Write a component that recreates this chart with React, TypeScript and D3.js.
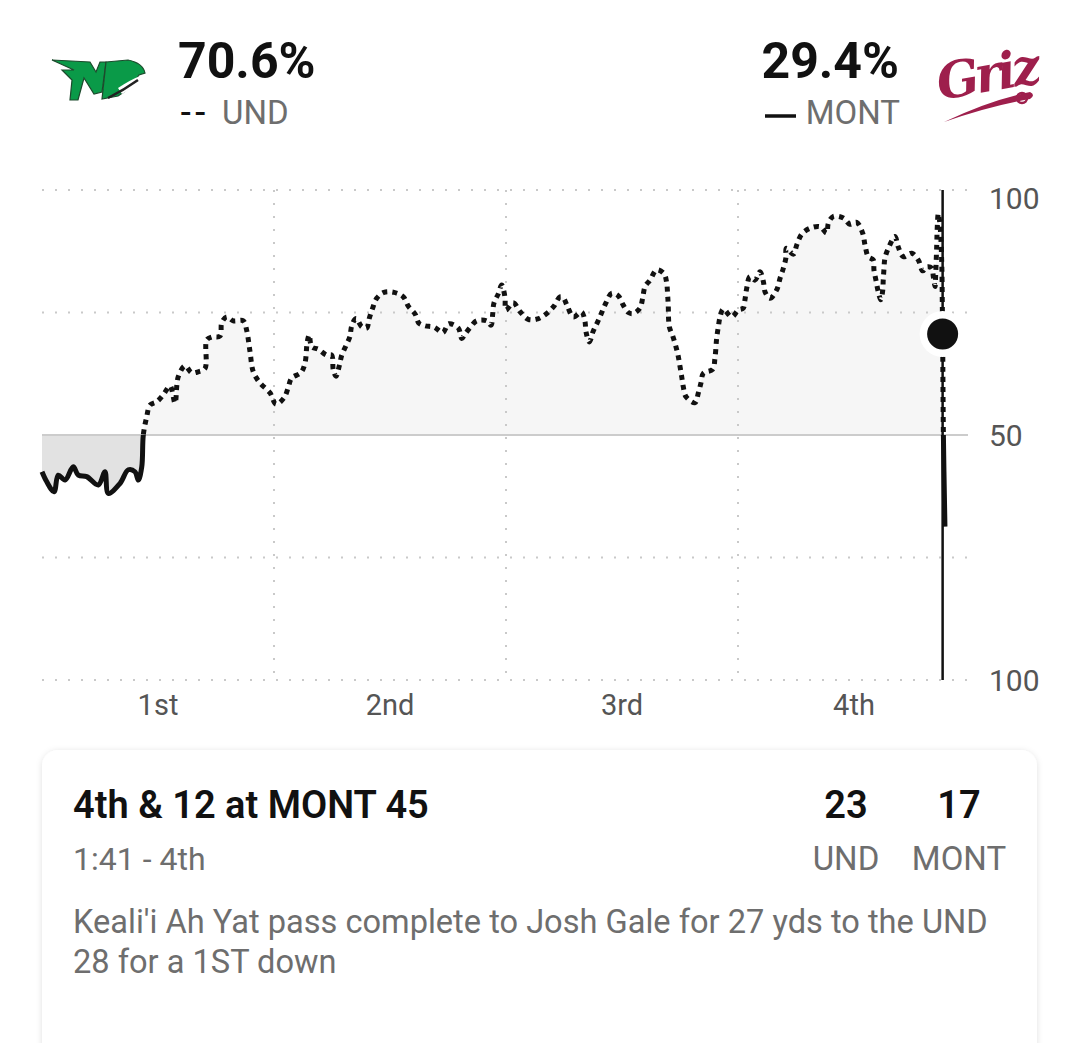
import React from 'react';
import * as d3 from 'd3';

// win probability for UND, one [game minute, pct] pair per play
const q1Plays: [number, number][] = [
  [0, 42.5], [0.3, 40.5], [0.78, 38.4], [1.05, 41.8], [1.49, 40.8], [2.02, 43.5], [2.35, 41.8],
  [2.89, 41.5], [3.64, 39.8], [4.07, 42.5], [4.29, 38.1], [5.04, 40.1], [5.58, 42.9], [6.01, 42.5],
  [6.23, 40.8], [6.45, 43.5], [6.55, 50], [6.77, 53.7], [6.98, 56.1], [7.42, 56.8], [7.84, 58.2],
  [8.28, 60], [8.6, 56.5], [8.81, 61.9], [9.25, 64.1], [9.68, 62.7], [10.1, 62.9], [10.54, 63.6],
  [10.65, 69.4], [10.97, 70], [11.51, 70.2], [11.62, 72.9], [11.94, 74.1], [12.37, 73.3],
  [13.01, 73.3], [13.23, 71.4], [13.45, 67], [13.66, 62.9], [14.1, 60.6], [14.74, 58.6],
];
const q2Plays: [number, number][] = [
  [15.13, 56.3], [15.65, 57.6], [15.92, 59.7], [16.14, 61.6], [16.73, 62.7], [17.0, 64.6],
  [17.15, 69], [17.28, 70.4], [17.44, 68], [17.86, 67.5], [18.41, 66.3], [18.73, 66.3],
  [18.83, 63.3], [19.01, 62], [19.22, 64.1], [19.38, 66.3], [19.65, 68.2], [19.91, 70.1],
  [20.02, 72.2], [20.3, 73.8], [20.67, 72.1], [20.99, 71.8], [21.16, 73.8], [21.38, 75.9],
  [21.64, 77.9], [22.11, 79.1], [22.76, 79.1], [23.36, 78.2], [23.68, 76.3], [24.12, 74.7],
  [24.37, 72.8], [24.76, 72.3], [25.36, 72], [25.91, 70.9], [26.31, 72.7], [26.92, 71.8],
  [27.14, 69.7], [27.35, 70.6], [27.67, 71.9], [28.1, 73.3], [28.75, 73.3], [29.03, 72.4],
  [29.14, 74.7], [29.22, 76.9], [29.5, 78.8], [29.72, 80.6], [29.93, 78.2], [30.0, 75.5],
];
const q3Plays: [number, number][] = [
  [30.47, 77], [30.9, 75.2], [31.44, 73.6], [32.05, 73.7], [32.63, 74.8], [33.1, 76.3],
  [33.49, 78.2], [33.7, 78], [33.99, 76.1], [34.35, 74.1], [34.89, 75.1], [35.11, 73.1],
  [35.17, 71.1], [35.39, 69], [35.64, 71.2], [35.93, 73.1], [36.19, 75], [36.47, 77],
  [36.83, 78.9], [37.26, 78.4], [37.58, 76.5], [37.91, 75], [38.23, 74.8], [38.66, 75.9],
  [38.84, 78], [38.99, 80.3], [39.31, 81.6], [39.74, 83.7], [40.22, 82.9], [40.39, 81],
  [40.45, 78.6], [40.49, 76.5], [40.56, 72.1], [40.78, 70.2], [40.99, 68], [41.14, 66],
  [41.25, 64], [41.36, 61.9], [41.46, 59.9], [41.64, 57.8], [42.22, 56.6], [42.43, 58.5],
  [42.61, 60.7], [42.76, 62.6], [43.36, 63.4], [43.51, 65.7], [43.62, 69.7], [43.73, 72.1],
  [43.84, 74.1], [44.05, 75.7], [44.59, 74.1], [45.02, 75.5],
];
const q4Plays: [number, number][] = [
  [45.34, 75.9], [45.45, 77.6], [45.56, 79.9], [45.77, 82.3], [46.1, 81.6], [46.42, 83.3],
  [46.64, 81.3], [46.75, 79.2], [47.07, 77.9], [47.5, 79.6], [47.72, 82], [47.93, 84],
  [48.1, 86.2], [48.12, 88.1], [48.58, 86.9], [48.8, 88.8], [49.12, 91], [49.66, 92.2],
  [50.31, 92.5], [50.73, 91.2], [50.84, 93.2], [51.16, 94.6], [51.81, 94.3], [52.24, 93],
  [52.67, 93.4], [53.06, 91.2], [53.21, 88.8], [53.42, 86.4], [53.75, 85.7], [53.79, 83.7],
  [53.92, 81.6], [54.07, 79.2], [54.23, 77.6], [54.36, 79.6], [54.39, 81.6], [54.44, 84],
  [54.5, 86.1], [54.72, 88.1], [55.15, 90.5], [55.36, 88.4], [55.69, 86.4], [56.23, 87.1],
  [56.66, 85.7], [56.94, 83.5], [57.2, 84.3], [57.52, 84.1], [57.63, 82.3], [57.74, 80.3],
  [57.78, 82.7], [57.85, 88.8], [57.88, 92.2], [57.95, 95.2], [58.06, 92.9], [58.17, 85.4],
  [58.21, 76.5], [58.23, 70.6], [58.28, 50], [58.38, 31.3],
];

const quarterLabels = ['1st', '2nd', '3rd', '4th'];
const quarterBreaks = [15, 30, 45];
const gridValues = [100, 75, 25, 0];
const axisLabelValues = [100, 50, 0];

// selected play
const selMinute = 58.23;
const selUndPct = 70.6;
const teams = ['UND', 'MONT'];
const scores = [23, 17];
const playTitle = '4th & 12 at MONT 45';
const playClock = '1:41 - 4th';
const playText = [
  "Keali'i Ah Yat pass complete to Josh Gale for 27 yds to the UND",
  '28 for a 1ST down',
];

const W = 1079;
const H = 1043;
const FONT = 'Roboto, "Noto Sans", sans-serif';
const GRAY = '#6e6e6e';
const MAROON = '#9e1f4c';

export default function App() {
  const plays = [...q1Plays, ...q2Plays, ...q3Plays, ...q4Plays];
  const x = d3.scaleLinear().domain([0, 60]).range([42, 970]);
  const y = d3.scaleLinear().domain([0, 100]).range([680, 190]);
  const mid = y(50);
  const curve = d3.curveCatmullRom.alpha(0.5);

  const area = d3.area<[number, number]>()
    .x(d => x(d[0])).y0(mid).y1(d => y(d[1])).curve(curve);
  const line = d3.line<[number, number]>()
    .x(d => x(d[0])).y(d => y(d[1])).curve(curve);

  const areaD = area(plays) || '';
  const lineD = line(plays) || '';
  const [x0, x1] = x.range();

  return (
    <svg width={W} height={H} style={{ position: 'absolute', left: 0, top: 0, background: '#fff' }}
      fontFamily={FONT}>
      <defs>
        <clipPath id="und-side"><rect x={0} y={0} width={W} height={mid} /></clipPath>
        <clipPath id="mont-side"><rect x={0} y={mid} width={W} height={H - mid} /></clipPath>
        <filter id="card-shadow" x="-5%" y="-5%" width="110%" height="110%">
          <feDropShadow dx={0} dy={1} stdDeviation={3} floodColor="#000" floodOpacity={0.12} />
        </filter>
      </defs>

      {/* header: UND */}
      <g>
        <path d="M52,60 L90,62 L96,72 L100,62 L106,62 L102,92 L94,94 L84,78 L78,100 L70,100 L72,80 L62,70 L74,70 Z"
          fill="#0a9a48" stroke="#1c4a2c" strokeWidth={1.2} />
        <path d="M106,62 L128,60 Q143,63 145,73 L139,75 Q132,88 118,96 L102,99 Z"
          fill="#0a9a48" stroke="#1c4a2c" strokeWidth={1.2} />
        <path d="M118,88 Q130,80 140,76 Q134,88 122,94 Z" fill="#fff" />
        <path d="M108,98 Q124,90 138,80" stroke="#222" strokeWidth={2.5} fill="none" />
        <text x={178} y={78} fontSize={50} fontWeight={700} fill="#111">{selUndPct.toFixed(1)}%</text>
        <text x={180} y={124} fontSize={34} fontWeight={500} letterSpacing={3} fill="#111">--</text>
        <text x={222} y={124} fontSize={33} fill={GRAY}>{teams[0]}</text>
      </g>

      {/* header: MONT */}
      <g>
        <text x={899} y={78} fontSize={50} fontWeight={700} fill="#111" textAnchor="end">
          {(100 - selUndPct).toFixed(1)}%
        </text>
        <line x1={765} x2={796} y1={116} y2={116} stroke="#111" strokeWidth={3.5} />
        <text x={900} y={124} fontSize={33} fill={GRAY} textAnchor="end">{teams[1]}</text>
        <text x={940} y={100} fontSize={50} fontWeight={700} fontStyle="italic"
          fontFamily='"DejaVu Serif", serif' fill={MAROON} transform="rotate(-10 940 100)"
          letterSpacing={-4}>Griz</text>
        <path d="M944,122 Q990,100 1030,92 Q1036,95 1030,99 Q990,106 944,122 Z" fill={MAROON} />
        <circle cx={1022} cy={98} r={5} fill="none" stroke={MAROON} strokeWidth={2.5} />
      </g>

      {/* win probability chart */}
      <g>
        <path d={areaD} fill="#f6f6f6" clipPath="url(#und-side)" />
        <path d={areaD} fill="#e2e2e2" clipPath="url(#mont-side)" />

        {gridValues.map(v => (
          <line key={v} x1={x0} x2={x1 - 2} y1={y(v)} y2={y(v)}
            stroke="#c9c9c9" strokeWidth={2} strokeDasharray="2 11" />
        ))}
        {quarterBreaks.map(q => (
          <line key={q} x1={x(q)} x2={x(q)} y1={y(100)} y2={y(0)}
            stroke="#c9c9c9" strokeWidth={2} strokeDasharray="2 11" />
        ))}
        <line x1={x0} x2={x1 - 2} y1={mid} y2={mid} stroke="#cccccc" strokeWidth={2} />

        <path d={lineD} fill="none" stroke="#111" strokeWidth={5} strokeDasharray="5 5"
          clipPath="url(#und-side)" />
        <path d={lineD} fill="none" stroke="#111" strokeWidth={5} strokeLinejoin="round"
          clipPath="url(#mont-side)" />

        <line x1={x(selMinute)} x2={x(selMinute)} y1={y(100)} y2={y(0)} stroke="#111" strokeWidth={2.5} />
        <circle cx={x(selMinute)} cy={y(selUndPct)} r={23} fill="#fff" />
        <circle cx={x(selMinute)} cy={y(selUndPct)} r={15.5} fill="#111" />

        {axisLabelValues.map(v => (
          <text key={v} x={989} y={v === 100 ? y(v) + 19 : y(v) + 11} fontSize={30} fill="#555">
            {Math.max(v, 100 - v)}
          </text>
        ))}
        {quarterLabels.map((q, i) => (
          <text key={q} x={x(i * 15 + 7.5)} y={715} fontSize={29} fill="#555" textAnchor="middle">{q}</text>
        ))}
      </g>

      {/* selected play card */}
      <g>
        <rect x={42} y={750} width={995} height={340} rx={16} fill="#fff" filter="url(#card-shadow)" />
        <text x={73} y={818} fontSize={38} fontWeight={600} fill="#111">{playTitle}</text>
        <text x={846} y={818} fontSize={38} fontWeight={600} fill="#111" textAnchor="middle">{scores[0]}</text>
        <text x={959} y={818} fontSize={38} fontWeight={600} fill="#111" textAnchor="middle">{scores[1]}</text>
        <text x={73} y={870} fontSize={32} fill={GRAY}>{playClock}</text>
        <text x={846} y={870} fontSize={33} fill={GRAY} textAnchor="middle">{teams[0]}</text>
        <text x={959} y={870} fontSize={33} fill={GRAY} textAnchor="middle">{teams[1]}</text>
        {playText.map((t, i) => (
          <text key={i} x={73} y={933 + i * 40} fontSize={32.6} fill={GRAY}>{t}</text>
        ))}
      </g>
    </svg>
  );
}
